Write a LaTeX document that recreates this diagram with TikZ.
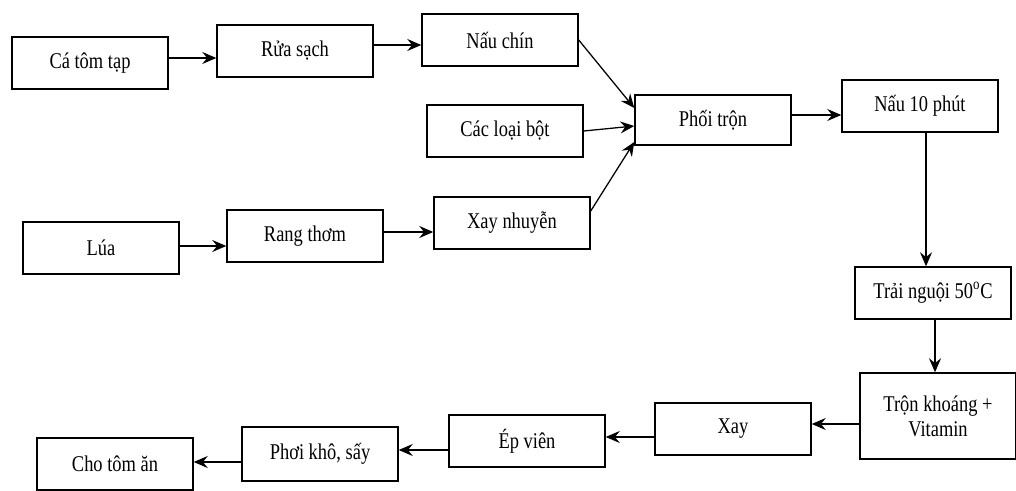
\documentclass[tikz,border=0pt]{standalone}
\usepackage{fontspec}
\setmainfont{Liberation Serif}[FakeStretch=0.82]
\usetikzlibrary{arrows.meta}
\begin{document}
\begin{tikzpicture}[x=0.025cm, y=-0.025cm,
        box/.style={draw, line width=1pt, minimum width=39mm, minimum height=13mm,
                    inner sep=2pt, align=center, font=\fontsize{16}{18}\selectfont},
        flow/.style={-{Stealth[length=3.5mm, width=3mm, inset=1.2mm]}, line width=0.9pt}]
    \useasboundingbox (0, 0) rectangle (1016, 491);
    % upper row
    \node [box] (catom) at (90, 63) {Cá tôm tạp};
    \node [box] (ruasach) at (295, 51) {Rửa sạch};
    \node [box] (nauchin) at (500, 40) {Nấu chín};
    \node [box] (bot) at (505, 131) {Các loại bột};
    \node [box, minimum height=12.5mm] (phoitron) at (713, 120) {Phối trộn};
    \node [box] (nau10) at (920, 106) {Nấu 10 phút};
    % rice row
    \node [box] (lua) at (101, 248) {Lúa};
    \node [box] (rang) at (305, 236) {Rang thơm};
    \node [box] (xaynhuyen) at (512, 223) {Xay nhuyễn};
    % right column and bottom row
    \node [box] (trai) at (933, 293) {Trải nguội 50\textsuperscript{o}C};
    \node [box, minimum height=21.5mm] (khoang) at (938, 416) {Trộn khoáng +\\Vitamin};
    \node [box] (xay) at (733, 429) {Xay};
    \node [box] (epvien) at (527, 441) {Ép viên};
    \node [box, minimum height=13.5mm] (phoi) at (320, 454) {Phơi khô, sấy};
    \node [box] (cho) at (115, 464) {Cho tôm ăn};
    % arrows
    \draw [flow] ([yshift=1.25mm]catom.east) -- ([yshift=1.25mm]catom.east -| ruasach.west);
    \draw [flow] ([yshift=1.5mm]ruasach.east) -- ([yshift=1.5mm]ruasach.east -| nauchin.west);
    \draw [flow] ([yshift=0.5mm]lua.east) -- ([yshift=0.5mm]lua.east -| rang.west);
    \draw [flow] ([yshift=1mm]rang.east) -- ([yshift=1mm]rang.east -| xaynhuyen.west);
    \draw [flow] (nauchin.east) -- ([yshift=3mm]phoitron.west);
    \draw [flow] (bot.east) -- ([yshift=-1.5mm]phoitron.west);
    \draw [flow] ([yshift=3mm]xaynhuyen.east) -- ([yshift=-5.5mm]phoitron.west);
    \draw [flow] ([yshift=1.25mm]phoitron.east) -- ([yshift=1.25mm]phoitron.east -| nau10.west);
    \draw [flow] ([xshift=1.5mm]nau10.south) -- ([xshift=1.5mm]nau10.south |- trai.north);
    \draw [flow] ([xshift=0.5mm]trai.south) -- ([xshift=0.5mm]trai.south |- khoang.north);
    \draw [flow] ([yshift=-2mm]khoang.west) -- ([yshift=-2mm]khoang.west -| xay.east);
    \draw [flow] ([yshift=-2mm]xay.west) -- ([yshift=-2mm]xay.west -| epvien.east);
    \draw [flow] ([yshift=-2.25mm]epvien.west) -- ([yshift=-2.25mm]epvien.west -| phoi.east);
    \draw [flow] ([yshift=-2mm]phoi.west) -- ([yshift=-2mm]phoi.west -| cho.east);
\end{tikzpicture}
\end{document}
